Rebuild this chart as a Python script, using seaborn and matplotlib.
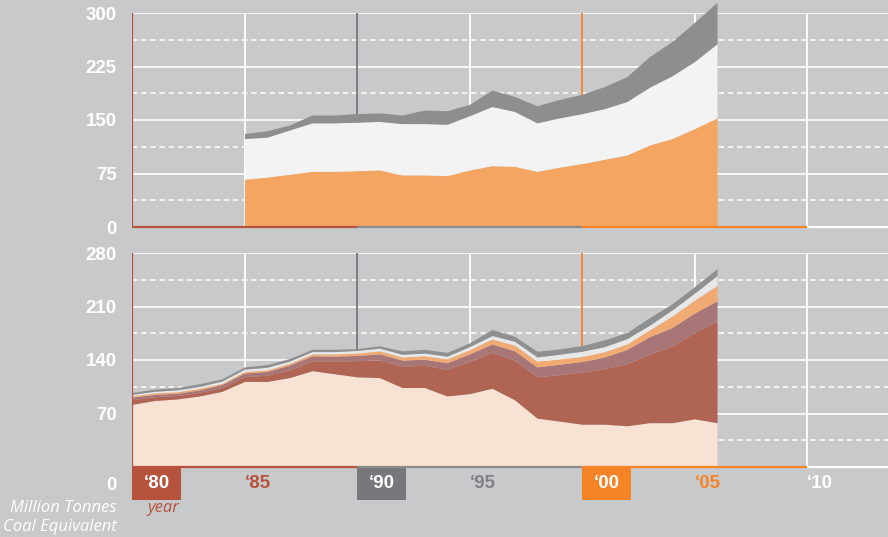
import matplotlib
matplotlib.use("Agg")
import matplotlib.pyplot as plt
import matplotlib.transforms as mtransforms
from matplotlib.patches import Rectangle
import seaborn as sns

# upper panel, 1985-2006
years_top = list(range(1985, 2007))
top_orange = [67, 70, 74, 78, 78, 79, 80, 73, 73, 72, 80, 86, 85, 78, 84, 89, 95, 101, 115, 124, 138, 153]
top_white = [57, 56, 62, 68, 68, 68, 68, 72, 72, 72, 76, 83, 77, 68, 69, 70, 71, 75, 81, 88, 94, 104]
top_gray = [7, 9, 7, 11, 11, 12, 12, 12, 19, 19, 16, 23, 21, 24, 26, 27, 31, 35, 43, 48, 55, 58]

# lower panel, 1980-2006
years_bottom = list(range(1980, 2007))
peach = [82, 87, 89, 93, 99, 112, 112, 117, 126, 122, 118, 117, 104, 104, 93, 96, 103, 88, 64, 60, 56, 56, 54, 58, 58, 63, 58]
dark_red = [6, 5, 4.5, 5, 5, 6.5, 8, 10, 13, 17, 21, 23, 28, 29, 35, 42, 47, 52, 54, 61, 68, 73, 81, 90, 100, 113, 133]
mauve = [3.5, 3, 3, 3, 4, 4.5, 5, 6.5, 6.5, 6, 7, 8, 8, 8, 8.5, 10, 11, 12, 13, 13.5, 14, 15, 19, 22.5, 24.5, 25.5, 26.5]
orange = [1.5, 2, 2, 2, 1.5, 2, 2, 2, 2.5, 3, 3, 4, 4, 4.5, 5, 5.5, 6.5, 7.5, 7.5, 7, 6.5, 7, 7, 9, 15, 17, 20]
light = [2, 2, 2.5, 2.5, 3, 3, 3.5, 3, 3, 3, 3.5, 3.5, 3.5, 3.5, 3.5, 4, 4.5, 5, 5.5, 6, 7, 6.5, 7, 6, 8, 9, 13]
gray = [2.5, 3, 3, 3.5, 3, 3, 3.5, 3.5, 3, 3, 2.5, 3, 4.5, 5, 5, 5, 8, 6.5, 7.5, 7, 7.5, 9, 8, 10, 8, 8.5, 9]

top_ticks = [0, 75, 150, 225, 300]
bottom_ticks = [70, 140, 210, 280]
decades = [1980, 1985, 1990, 1995, 2000, 2005, 2010]
decade_labels = ["\u201880", "\u201885", "\u201890", "\u201895", "\u201800", "\u201805", "\u201810"]

bg = "#c8c9cb"
red = "#b5533c"
dgray = "#77787b"
org = "#f58426"
fs = 13.5
bold_font = ["Liberation Sans", "DejaVu Sans"]

sns.set_style("white", {"axes.facecolor": bg, "figure.facecolor": bg})
plt.rcParams["font.family"] = ["Open Sans", "DejaVu Sans"]

fig = plt.figure(figsize=(8.88, 5.37), dpi=100)
ax1 = fig.add_axes([132 / 888, 1 - 227 / 537, 756 / 888, 214 / 537])
ax2 = fig.add_axes([132 / 888, 1 - 467 / 537, 756 / 888, 214 / 537])

xmax = 1980 + 756 / 22.5


def frame(ax, ymax):
    ax.set_xlim(1980, xmax)
    ax.set_ylim(0, ymax)
    sns.despine(ax=ax, left=True, bottom=True)
    for v in [ymax / 4, ymax / 2, ymax * 3 / 4, ymax]:
        ax.axhline(v, color="white", lw=1.2, zorder=1)
    for v in [ymax / 8, ymax * 3 / 8, ymax * 5 / 8, ymax * 7 / 8]:
        ax.axhline(v, color="white", lw=1.1, ls=(0, (3.5, 2.5)), zorder=1)
    vcols = {1985: "white", 1990: dgray, 1995: "white", 2000: org, 2005: "white", 2010: "white"}
    for yr, c in vcols.items():
        ax.axvline(yr, color=c, lw=1.3, zorder=1)
    ax.axvline(1980, color=red, lw=1.6, zorder=5)
    segs = [(1980, 1990, red), (1990, 2000, "#8a8b8d"), (2000, 2010, org), (2010, xmax, "white")]
    for a, b, c in segs:
        ax.plot([a, b], [0, 0], color=c, lw=1.6, clip_on=False, zorder=5, solid_capstyle="butt")
    ax.set_xticks([])
    ax.tick_params(axis="y", length=0, pad=11, labelcolor="white", labelsize=fs)


frame(ax1, 300)
polys = ax1.stackplot(years_top, top_orange, top_white, top_gray,
                      colors=["#f4a561", "#f3f3f3", "#8d8e90"], lw=0, zorder=2)
for p in polys:
    p.set_clip_on(False)
ax1.set_yticks(top_ticks)
ax1.set_yticklabels([str(t) for t in top_ticks], fontweight="bold", color="white",
                    fontsize=fs, family=bold_font)

frame(ax2, 280)
ax2.stackplot(years_bottom, peach, dark_red, mauve, orange, light, gray,
              colors=["#f7e2d3", "#b06453", "#a87677", "#f0aa72", "#e8e8e8", "#8f9092"],
              lw=0, zorder=2)
ax2.set_yticks(bottom_ticks)
ax2.set_yticklabels([str(t) for t in bottom_ticks], fontweight="bold", color="white",
                    fontsize=fs, family=bold_font)
ax2.annotate("0", xy=(0, 0), xycoords=("axes fraction", "data"), xytext=(-11, -13),
             textcoords="offset points", ha="right", va="center",
             color="white", fontweight="bold", fontsize=fs, family=bold_font)

# year labels under the lower panel
trans = mtransforms.blended_transform_factory(ax2.transData, ax2.transAxes)
boxed = {1980: red, 1990: dgray, 2000: org}
text_cols = {1985: red, 1995: "#808184", 2005: org, 2010: "white"}
box_w = 49 / 22.5
for yr, lab in zip(decades, decade_labels):
    if yr in boxed:
        ax2.add_patch(Rectangle((yr, -33 / 214), box_w, 33 / 214, transform=trans,
                                facecolor=boxed[yr], lw=0, clip_on=False, zorder=4))
        ax2.text(yr + box_w / 2, -17 / 214, lab, transform=trans, ha="center", va="center",
                 color="white", fontweight="bold", fontsize=fs, family=bold_font, zorder=6)
    else:
        ax2.text(yr, -17 / 214, lab, transform=trans, ha="left", va="center",
                 color=text_cols[yr], fontweight="bold", fontsize=fs, family=bold_font)

fig.text(148 / 888, 1 - 508 / 537, "year", ha="left", va="center", color=red,
         style="italic", fontsize=12)
fig.text(117 / 888, 1 - 508 / 537, "Million Tonnes", ha="right", va="center",
         color="white", style="italic", fontsize=12)
fig.text(117 / 888, 1 - 527 / 537, "Coal Equivalent", ha="right", va="center",
         color="white", style="italic", fontsize=12)

fig.savefig("out.png", dpi=100, facecolor=bg)
